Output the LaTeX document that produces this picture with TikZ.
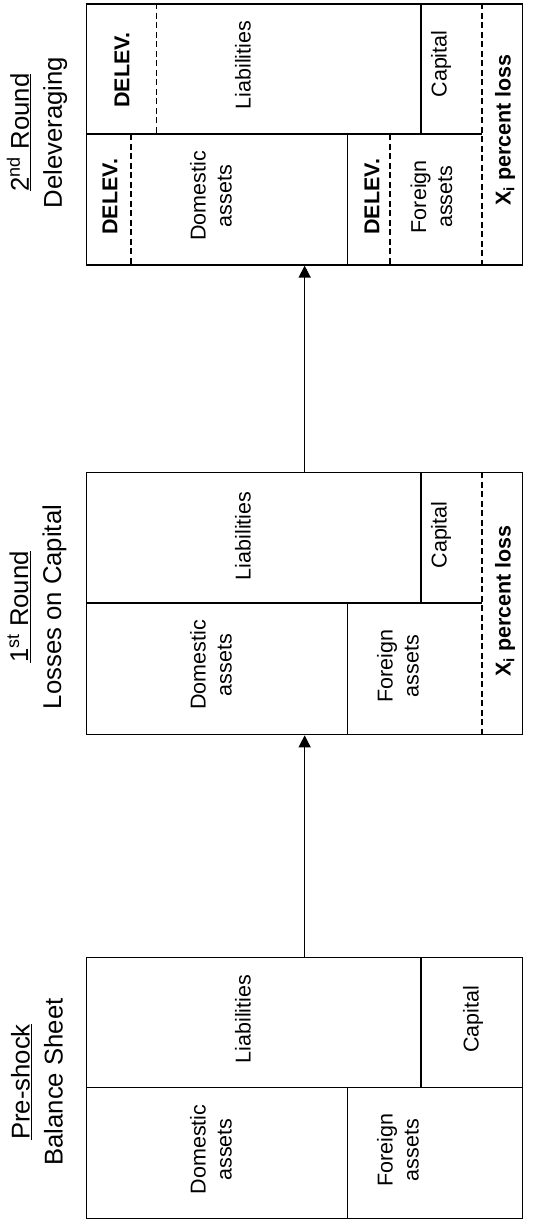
\documentclass[tikz,border=0pt]{standalone}
\usepackage{fontspec}
\setmainfont{Liberation Sans}
\usetikzlibrary{arrows.meta}
\begin{document}
\begin{tikzpicture}[x=1pt,y=-1pt,
  sheet/.style={draw,line width=1.3pt,minimum width=436pt,inner sep=0pt,anchor=north west},
  cell/.style={rotate=90,align=center,font=\fontsize{21.5}{26}\selectfont,inner sep=0pt},
  bcell/.style={rotate=90,align=center,font=\fontsize{21.5}{26}\selectfont\bfseries,inner sep=0pt},
  ttl/.style={rotate=90,align=center,font=\fontsize{25.7}{33}\selectfont,inner sep=0pt},
  sline/.style={line width=1.3pt},
  dline/.style={line width=1.1pt,dash pattern=on 6pt off 3.5pt},
  conn/.style={line width=1.3pt,-{Triangle[length=12pt,width=12pt]}}
]
\useasboundingbox (0,0) rectangle (542,1219);

% ---------- Box 1: pre-shock ----------
\node[sheet,minimum height=261pt] (b1) at (86,957) {};
\draw[sline] (86,1087.7) -- (522,1087.7);
\draw[sline] (421,957) -- (421,1087.7);
\draw[sline] (347.7,1087.7) -- (347.7,1218);
\node[cell] (l1) at (243,1019) {Liabilities};
\node[cell] (c1) at (473,1019.5) {Capital};
\node[cell] (d1) at (211,1149.5) {Domestic\\assets};
\node[cell] (f1) at (398,1150) {Foreign\\assets};
\node[ttl] (t1) at (37,1082) {\underline{Pre-shock}\\Balance Sheet};

% ---------- Box 2: 1st round ----------
\node[sheet,minimum height=262pt] (b2) at (86,472) {};
\draw[sline] (86,603) -- (482,603);
\draw[sline] (421,472) -- (421,603);
\draw[sline] (347.7,603) -- (347.7,734);
\draw[dline] (482,472) -- (482,734);
\node[cell] (l2) at (243,535.8) {Liabilities};
\node[cell] (c2) at (441,535) {Capital};
\node[cell] (d2) at (211,665) {Domestic\\assets};
\node[cell] (f2) at (398,666) {Foreign\\assets};
\node[bcell] (x2) at (505,601) {X\textsubscript{i} percent loss};
\node[ttl] (t2) at (37,607) {\underline{1\textsuperscript{st} Round}\\Losses on Capital};

% ---------- Box 3: 2nd round ----------
\node[sheet,minimum height=261pt] (b3) at (86,3.3) {};
\draw[sline] (86,134) -- (482,134);
\draw[sline] (421,3.3) -- (421,134);
\draw[sline] (347.7,134) -- (347.7,264.3);
\draw[dline] (482,3.3) -- (482,264.3);
\draw[dline] (156.3,3.3) -- (156.3,134);
\draw[dline] (131,134) -- (131,264.3);
\draw[dline] (390,134) -- (390,264.3);
\node[bcell] (e1) at (122,70) {DELEV.};
\node[cell] (l3) at (243,65) {Liabilities};
\node[cell] (c3) at (441,64) {Capital};
\node[bcell] (e2) at (110,196.7) {DELEV.};
\node[cell] (d3) at (211,196) {Domestic\\assets};
\node[bcell] (e3) at (372,196.7) {DELEV.};
\node[cell] (f3) at (431.5,196.7) {Foreign\\assets};
\node[bcell] (x3) at (505,130) {X\textsubscript{i} percent loss};
\node[ttl] (t3) at (37,132.5) {\underline{2\textsuperscript{nd} Round}\\Deleveraging};

% ---------- connectors ----------
\draw[conn] (b1.north) -- (b2.south);
\draw[conn] (b2.north) -- (b3.south);
\end{tikzpicture}
\end{document}
